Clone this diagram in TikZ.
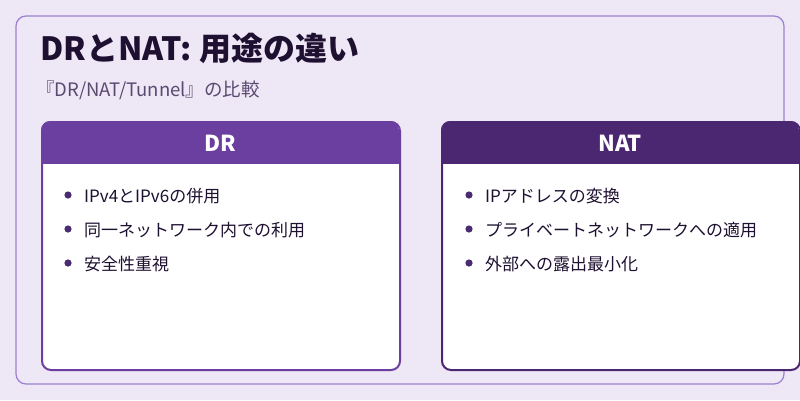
\documentclass[tikz,border=0pt]{standalone}
\usepackage{fontspec}
\setmainfont{Noto Sans CJK JP}
\definecolor{bg}{HTML}{EDE7F6}
\definecolor{frame}{HTML}{9C7FD0}
\definecolor{hdA}{HTML}{6B3FA0}
\definecolor{hdB}{HTML}{4A2770}
\definecolor{ink}{HTML}{1E1030}
\definecolor{sub}{HTML}{5A4A70}
\definecolor{dot}{HTML}{4A2A70}
\tikzset{
 card/.style={draw=#1,line width=2pt,rounded corners=9pt,fill=white},
 bul/.style={anchor=west,font=\fontsize{17}{19}\selectfont,text=ink,inner sep=0},
 hd/.style={font=\fontsize{22}{25}\selectfont\bfseries,text=white}
}
\begin{document}
\begin{tikzpicture}[x=1pt,y=-1pt]
\useasboundingbox[fill=bg] (0,0) rectangle (800,400);
\draw[frame,line width=1.2pt,rounded corners=10pt] (16,16) rectangle (784,384);
\node[anchor=west,inner sep=0,text=ink,font=\fontsize{32}{34}\selectfont\bfseries] (title) at (40,48) {DRとNAT: 用途の違い};
\node[anchor=west,inner sep=0,text=sub,font=\fontsize{18.5}{20}\selectfont] (subt) at (36,90) {『DR/NAT/Tunnel』の比較};
\node[card=hdA,minimum width=358pt,minimum height=248pt,anchor=north west] (cardA) at (41,121) {};
\begin{scope}
\clip[rounded corners=9pt] (41,121) rectangle (399,400);
\fill[hdA] (41,121) rectangle (399,164);
\end{scope}
\node[hd] (hA) at (220,143) {DR};
\node[card=hdB,minimum width=358pt,minimum height=248pt,anchor=north west] (cardB) at (441,121) {};
\begin{scope}
\clip[rounded corners=9pt] (441,121) rectangle (799,400);
\fill[hdB] (441,121) rectangle (799,164);
\end{scope}
\node[hd] (hB) at (620,143) {NAT};
\foreach \t [count=\i] in {IPv4とIPv6の併用,同一ネットワーク内での利用,安全性重視}{
  \fill[dot] (68,{161+34*\i}) circle (3.6pt);
  \node[bul] (a\i) at (84,{162+34*\i}) {\t};
}
\foreach \t [count=\i] in {IPアドレスの変換,プライベートネットワークへの適用,外部への露出最小化}{
  \fill[dot] (469,{161+34*\i}) circle (3.6pt);
  \node[bul] (b\i) at (485,{162+34*\i}) {\t};
}
\end{tikzpicture}
\end{document}
